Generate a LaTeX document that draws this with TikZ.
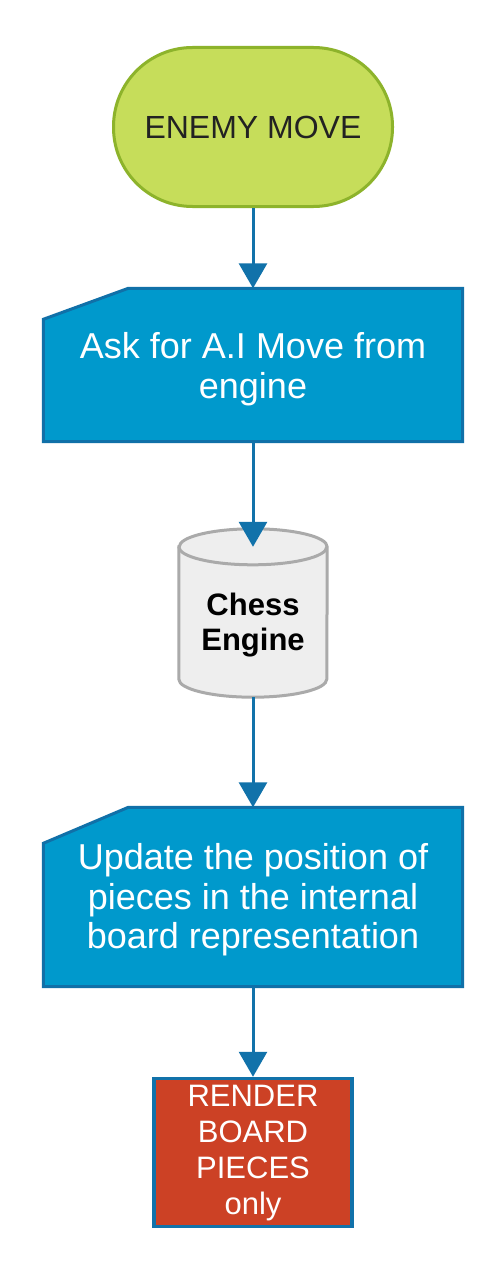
\documentclass[tikz,border=0pt]{standalone}
\usepackage{fontspec}
\setmainfont{Liberation Sans}
\usetikzlibrary{arrows.meta,calc,backgrounds}
\definecolor{limefill}{HTML}{C6DD5A}
\definecolor{limeline}{HTML}{8DB32B}
\definecolor{flowblue}{HTML}{1172AA}
\definecolor{boxfill}{HTML}{0099CC}
\definecolor{boxline}{HTML}{1070A8}
\definecolor{cylfill}{HTML}{EEEEEE}
\definecolor{cylline}{HTML}{AAAAAA}
\definecolor{redfill}{HTML}{CC4125}
\definecolor{darktext}{HTML}{222222}
\tikzset{
  terminator/.style={draw=limeline, fill=limefill, line width=3pt, rounded corners=79pt,
    minimum width=279pt, minimum height=159pt, inner sep=0pt, text=darktext,
    font=\fontsize{32}{36}\selectfont},
  manualbox/.style={minimum width=419pt, inner sep=0pt},
  manualtext/.style={inner sep=0pt, text=white, align=center,
    font=\fontsize{36}{39.5}\selectfont},
  manualshape/.style={draw=boxline, fill=boxfill, line width=3pt},
  enginebox/.style={minimum width=148pt, minimum height=150pt, inner sep=0pt},
  enginetext/.style={inner sep=0pt, align=center, font=\fontsize{31}{35}\selectfont\bfseries},
  cylshape/.style={draw=cylline, fill=cylfill, line width=3pt},
  renderbox/.style={draw=flowblue, fill=redfill, line width=3.5pt, minimum width=198pt,
    minimum height=148pt, inner sep=0pt},
  rendertext/.style={inner sep=0pt, text=white, align=center,
    font=\fontsize{31}{36}\selectfont},
  flow/.style={draw=flowblue, line width=3pt, -{Triangle[width=28pt,length=25pt]}}
}
\begin{document}
\begin{tikzpicture}[x=1pt,y=-1pt]
\useasboundingbox (0,0) rectangle (500,1268);

\node[terminator] (enemy) at (253,127) {ENEMY MOVE};
\node[manualbox, minimum height=153pt] (ask) at (253,365) {};
\node[enginebox] (engine) at (253,622) {};
\node[manualbox, minimum height=179pt] (update) at (253,897) {};
\node[renderbox] (render) at (253,1152.5) {};

\begin{scope}[on background layer]
  \fill[white] (0,0) rectangle (500,1268);
  \filldraw[manualshape] (ask.south west) -- ($(ask.north west)+(0,31)$) -- ($(ask.north west)+(85,0)$)
    -- (ask.north east) -- (ask.south east) -- cycle;
  \filldraw[manualshape] (update.south west) -- ($(update.north west)+(0,36)$) -- ($(update.north west)+(85,0)$)
    -- (update.north east) -- (update.south east) -- cycle;
  \filldraw[cylshape] (engine.north west) -- ($(engine.south west)+(0,-18)$)
    arc[start angle=180, end angle=0, x radius=74, y radius=18]
    -- (engine.north east)
    arc[start angle=360, end angle=180, x radius=74, y radius=18] -- cycle;
  \draw[cylshape, fill=none] (engine.north west) arc[start angle=180, end angle=0, x radius=74, y radius=18];
\end{scope}

\node[manualtext] (asktext) at ($(ask.center)+(0,4)$) {Ask for A.I Move from\\engine};
\node[enginetext] (enginelabel) at ($(engine.center)+(0,3)$) {Chess\\Engine};
\node[manualtext] (updatetext) at ($(update.center)+(0,3)$) {Update the position of\\pieces in the internal\\board representation};
\node[rendertext] (rendertextnode) at ($(render.center)+(0,1)$) {RENDER\\BOARD\\PIECES\\only};

\draw[flow] (enemy.south) -- (ask.north);
\draw[flow] (ask.south) -- (engine.north);
\draw[flow] (engine.south) -- (update.north);
\draw[flow] (update.south) -- (render.north);
\end{tikzpicture}
\end{document}
